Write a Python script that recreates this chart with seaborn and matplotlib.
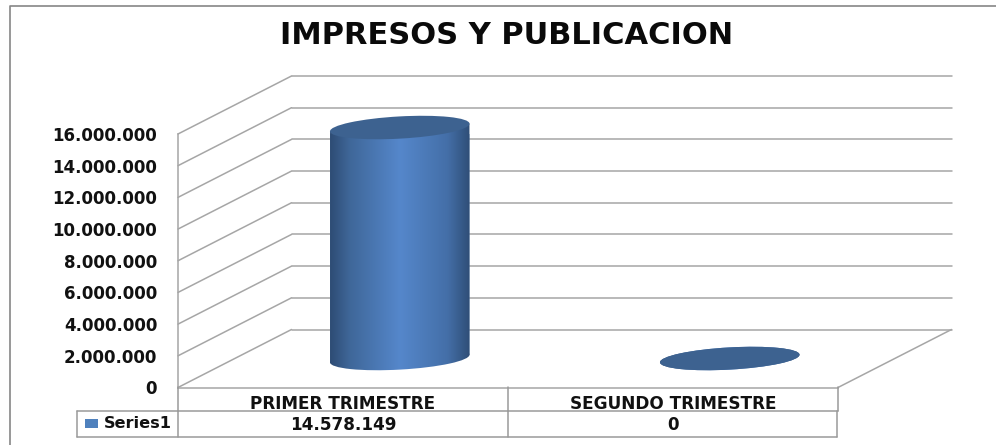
import matplotlib
matplotlib.use("Agg")
import matplotlib.pyplot as plt
import numpy as np
import seaborn as sns
from matplotlib.colors import LinearSegmentedColormap
from matplotlib.lines import Line2D
from matplotlib.patches import Ellipse, Rectangle
from matplotlib.ticker import FuncFormatter
from matplotlib.transforms import Affine2D, IdentityTransform

TITLE = "IMPRESOS Y PUBLICACION"
CATEGORIES = ["PRIMER TRIMESTRE", "SEGUNDO TRIMESTRE"]
VALUES = [14578149, 0]
SERIES = "Series1"
Y_TICKS = [0, 2000000, 4000000, 6000000, 8000000, 10000000, 12000000, 14000000, 16000000]

W, H = 996, 445
GRAY = "#A6A6A6"
FRAME = "#868686"
TILT = 3.2

sns.set_theme(style="white")
plt.rcParams["font.family"] = ["DejaVu Sans"]
fig = plt.figure(figsize=(W / 100, H / 100), dpi=100, facecolor="white")


def py(y):
    return H - y


ax = fig.add_axes([178 / W, (H - 387.5) / H, 660 / W, 253.5 / H])
ax.set_facecolor("none")
sns.barplot(x=CATEGORIES, y=VALUES, width=0.4224, color="#4F81BD", ax=ax, zorder=3)
ax.set_xlim(-0.5, 1.5)
ax.set_ylim(0, 16000000)
ax.set_yticks(Y_TICKS)
ax.yaxis.set_major_formatter(FuncFormatter(lambda v, _: f"{int(v):,}".replace(",", ".")))
ax.set_ylabel("")
ax.set_xlabel("")
ax.tick_params(axis="y", length=0, pad=15, labelsize=12, labelcolor="#111111")
ax.tick_params(axis="x", length=0, pad=5.5, labelsize=12.2, labelcolor="#111111")
for lab in ax.get_xticklabels() + ax.get_yticklabels():
    lab.set_fontweight("bold")
for name, sp in ax.spines.items():
    sp.set_visible(name in ("left", "bottom"))
    sp.set_color(GRAY)
    sp.set_linewidth(1.1)

# Walls and floor of the 3D box
depth = Affine2D().translate(113.5, 58)
back = ax.get_yaxis_transform() + depth
front = ax.get_yaxis_transform()
line_kw = dict(color=GRAY, lw=1.1, clip_on=False, zorder=1, solid_capstyle="round")
for v in Y_TICKS:
    ax.plot([0, 1], [v, v], transform=back, **line_kw)
    p0 = front.transform((0, v))
    p1 = back.transform((0, v))
    ax.add_line(Line2D([p0[0], p1[0]], [p0[1], p1[1]], transform=IdentityTransform(), **line_kw))
p0 = front.transform((1, 0))
p1 = back.transform((1, 0))
ax.add_line(Line2D([p0[0], p1[0]], [p0[1], p1[1]], transform=IdentityTransform(), **line_kw))

# Cylinders: each bar stands half way into the depth of the box
mid = ax.transData + Affine2D().translate(113.5 / 2, 29)
cmap = LinearSegmentedColormap.from_list(
    "cyl", [(0, "#2E4C74"), (0.14, "#3F6799"), (0.5, "#5587CB"), (0.84, "#446FA8"), (1, "#2F4E77")]
)
shade = np.linspace(0, 1, 256).reshape(1, -1)
bars = list(ax.patches)[:len(VALUES)]
for bar, value in zip(bars, VALUES):
    xc = bar.get_x() + bar.get_width() / 2
    left, right = bar.get_x(), bar.get_x() + bar.get_width()
    x_base, y_base = mid.transform((xc, 0))
    x_top, y_top = mid.transform((xc, value))
    px_w = mid.transform((right, 0))[0] - mid.transform((left, 0))[0]
    shear = Affine2D().translate(-x_base, 0).skew(0, np.radians(TILT)).translate(x_base, 0)
    bar.set_transform(mid + shear)
    bar.set_linewidth(0)
    base = Ellipse((x_base, y_base), px_w + 0.4, 22.2, angle=TILT, transform=IdentityTransform())
    for clip in ((bar.get_path(), bar.get_transform()), (base,)):
        im = ax.imshow(shade, cmap=cmap, aspect="auto", zorder=3.2, vmin=0, vmax=1,
                       extent=[left, right, -4000000, 18000000], interpolation="bilinear")
        im.set_transform(mid)
        im.set_clip_box(fig.bbox)
        im.set_clip_path(*clip)
    ax.add_patch(Ellipse((x_top, y_top), px_w + 0.4, 22.2, angle=TILT, transform=IdentityTransform(),
                         facecolor="#3D6290", edgecolor="none", zorder=4, clip_on=False))
ax.set_xlim(-0.5, 1.5)
ax.set_ylim(0, 16000000)

# Data table under the chart
table_segments = [
    ((178, 387), (178, 411)), ((508, 387), (508, 411)), ((838, 387), (838, 411)),
    ((77, 411), (838, 411)), ((77, 411), (77, 436.5)), ((77, 436.5), (837, 436.5)),
    ((178, 411), (178, 436.5)), ((508, 411), (508, 436.5)), ((837, 411), (837, 436.5)),
]
for (x0, y0), (x1, y1) in table_segments:
    fig.add_artist(Line2D([x0, x1], [py(y0), py(y1)], transform=IdentityTransform(),
                          color="#9A9A9A", lw=1.1))
fig.add_artist(Rectangle((85, py(428)), 13, 9, transform=IdentityTransform(),
                         facecolor="#4F81BD", edgecolor="none"))
fig.text(104 / W, py(424) / H, SERIES, fontsize=11.6, fontweight="bold", color="#111111",
         ha="left", va="center")
row_y = (387.5 - 424.5) / 253.5
for i, value in enumerate(VALUES):
    ax.text(i, row_y, f"{value:,}".replace(",", "."), transform=ax.get_xaxis_transform(),
            fontsize=12.1, fontweight="bold", color="#111111",
            ha="center", va="center", clip_on=False)

# Outer frame
fig.add_artist(Line2D([9.5, 9.5, W], [0, py(5.5), py(5.5)], transform=IdentityTransform(),
                      color=FRAME, lw=1.2))

fig.text(507 / W, py(35) / H, TITLE, fontsize=22, fontweight="bold",
         color="#0A0A0A", ha="center", va="center")

fig.savefig("out.png", dpi=100, facecolor="white")
